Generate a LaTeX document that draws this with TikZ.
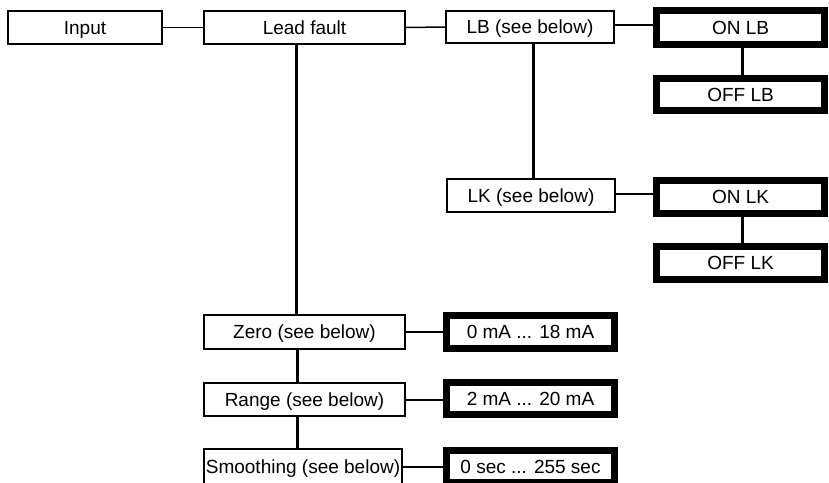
\documentclass[tikz,border=0pt]{standalone}
\usepackage{fontspec}
\setmainfont{Liberation Sans}
\begin{document}
\begin{tikzpicture}[x=1pt,y=-1pt,
  boxtext/.style={inner sep=0pt, text height=13.6pt, text depth=0pt, font=\fontsize{19}{22}\selectfont},
  thinbox/.style={boxtext, draw, line width=2pt, fill=white},
  thickbox/.style={boxtext, draw, line width=7pt, fill=white},
  hline/.style={line width=1.5pt},
  vline/.style={line width=3pt}]
\clip (0,0) rectangle (829,482);
\fill[white] (0,0) rectangle (829,482);
% thin boxes
\node[thinbox, minimum width=154pt, minimum height=33pt] (input) at (85,27.5) {Input};
\node[thinbox, minimum width=201pt, minimum height=33pt] (lead) at (304.5,27.5) {Lead fault};
\node[thinbox, minimum width=168pt, minimum height=32pt] (lb) at (530,27) {LB (see below)};
\node[thinbox, minimum width=168pt, minimum height=33pt] (lk) at (531,195.5) {LK (see below)};
\node[thinbox, minimum width=201pt, minimum height=34pt] (zero) at (304.5,332) {Zero (see below)};
\node[thinbox, minimum width=201pt, minimum height=33pt] (range) at (304.5,399.5) {Range (see below)};
\node[thinbox, minimum width=198pt, minimum height=35pt] (smooth) at (303,466.5) {Smoothing (see below)};
% thick boxes
\node[thickbox, minimum width=168pt, minimum height=34pt] (onlb) at (740.5,27.5) {ON LB};
\node[thickbox, minimum width=168pt, minimum height=32pt] (offlb) at (740.5,94.5) {OFF LB};
\node[thickbox, minimum width=168pt, minimum height=33pt] (onlk) at (740.5,197) {ON LK};
\node[thickbox, minimum width=168pt, minimum height=33pt] (offlk) at (740.5,263) {OFF LK};
\node[thickbox, minimum width=168pt, minimum height=33pt] (zerov) at (530.5,332) {0 mA ... 18 mA};
\node[thickbox, minimum width=168pt, minimum height=32pt] (rangev) at (530.5,398.5) {2 mA ... 20 mA};
\node[thickbox, minimum width=168pt, minimum height=32pt] (smoothv) at (530.5,466.5) {0 sec ... 255 sec};
% horizontal connectors
\draw[hline] (input.east) -- (lead.west);
\draw[hline] (lead.east) -- (lb.west);
\draw[hline] ([yshift=2]lb.east) -- ([yshift=2]lb.east -| onlb.west);
\draw[hline] ([yshift=1.5]lk.east) -- ([yshift=1.5]lk.east -| onlk.west);
\draw[hline] (zero.east) -- (zerov.west);
\draw[hline] ([yshift=-0.5]range.east) -- ([yshift=-0.5]range.east -| rangev.west);
\draw[hline] ([yshift=-0.5]smooth.east) -- ([yshift=-0.5]smooth.east -| smoothv.west);
% vertical connectors
\draw[vline] ([xshift=-8]lead.south) -- ([xshift=-8]lead.south |- zero.north);
\draw[vline] ([xshift=-7.5]zero.south) -- ([xshift=-7.5]zero.south |- range.north);
\draw[vline] ([xshift=-7.5]range.south) -- ([xshift=-7.5]range.south |- smooth.north);
\draw[vline] ([xshift=3]lb.south) -- ([xshift=3]lb.south |- lk.north);
\draw[vline] ([xshift=1.5]onlb.south) -- ([xshift=1.5]onlb.south |- offlb.north);
\draw[vline] ([xshift=1.5]onlk.south) -- ([xshift=1.5]onlk.south |- offlk.north);
\end{tikzpicture}
\end{document}
